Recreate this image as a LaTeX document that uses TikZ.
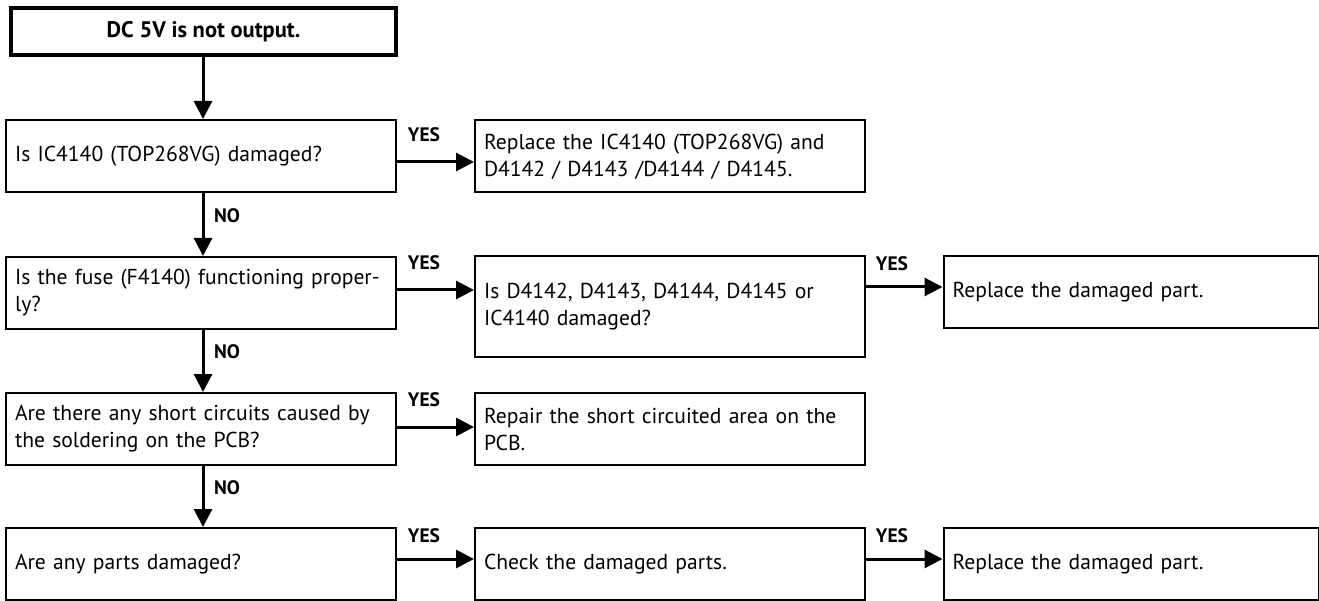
\documentclass[tikz,border=0pt]{standalone}
\usepackage{fontspec}
\setmainfont{PT Sans}
\usetikzlibrary{arrows.meta}
\tikzset{
  box/.style={draw=black, line width=2pt, rectangle, inner xsep=9pt, inner ysep=0pt,
    text width=372pt, minimum height=72pt, align=left,
    font=\fontsize{21.6}{27}\selectfont, anchor=center},
  startbox/.style={draw=black, line width=4pt, rectangle, minimum width=385pt,
    minimum height=47pt, inner sep=0pt, font=\bfseries\fontsize{22.5}{26}\selectfont},
  arr/.style={line width=3pt, -{Triangle[length=18pt,width=18pt]}},
  lbl/.style={font=\bfseries\fontsize{19.5}{22}\selectfont, inner sep=0pt}
}
\begin{document}
\begin{tikzpicture}[x=1pt,y=-1pt]
\useasboundingbox (0,0) rectangle (1319,601);
\node[startbox] (s) at (203.5,31.5) {DC 5V is not output.};
\node[box] (b1) at (201,156) {Is IC4140 (TOP268VG) damaged?};
\node[box] (b2) at (201,293) {Is the fuse (F4140) functioning proper-\\ly?};
\node[box] (b3) at (201,429) {Are there any short circuits caused by\\the soldering on the PCB?};
\node[box] (b4) at (201,564) {Are any parts damaged?};
\node[box] (r1) at (670,156.5) {Replace the IC4140 (TOP268VG) and\\D4142 / D4143 /D4144 / D4145.};
\node[box, minimum height=100pt] (r2) at (670,306.5) {Is D4142, D4143, D4144, D4145 or\\IC4140 damaged?};
\node[box] (r3) at (670,429) {Repair the short circuited area on the\\PCB.};
\node[box] (r4) at (670,564) {Check the damaged parts.};
\node[box, text width=357pt] (f2) at (1131,292) {Replace the damaged part.};
\node[box, text width=357pt] (f4) at (1131,564) {Replace the damaged part.};
% vertical arrows
\draw[arr] (s.south -| 203,0) -- (b1.north -| 203,0);
\draw[arr] (b1.south -| 203,0) -- (b2.north -| 203,0);
\draw[arr] (b2.south -| 203,0) -- (b3.north -| 203,0);
\draw[arr] (b3.south -| 203,0) -- (b4.north -| 203,0);
% horizontal arrows
\draw[arr] (b1.east |- 0,162) -- (r1.west |- 0,162);
\draw[arr] (b2.east |- 0,290) -- (r2.west |- 0,290);
\draw[arr] (b3.east |- 0,427) -- (r3.west |- 0,427);
\draw[arr] (b4.east |- 0,559) -- (r4.west |- 0,559);
\draw[arr] (r2.east |- 0,287) -- (f2.west |- 0,287);
\draw[arr] (r4.east |- 0,559) -- (f4.west |- 0,559);
% labels
\node[lbl] (n1) at (227,216) {NO};
\node[lbl] (n2) at (227,352) {NO};
\node[lbl] (n3) at (227,488) {NO};
\node[lbl] (y1) at (424,135) {YES};
\node[lbl] (y2) at (424,263) {YES};
\node[lbl] (y3) at (424,400) {YES};
\node[lbl] (y4) at (424,536) {YES};
\node[lbl] (y5) at (892,264) {YES};
\node[lbl] (y6) at (892,536) {YES};
\end{tikzpicture}
\end{document}
